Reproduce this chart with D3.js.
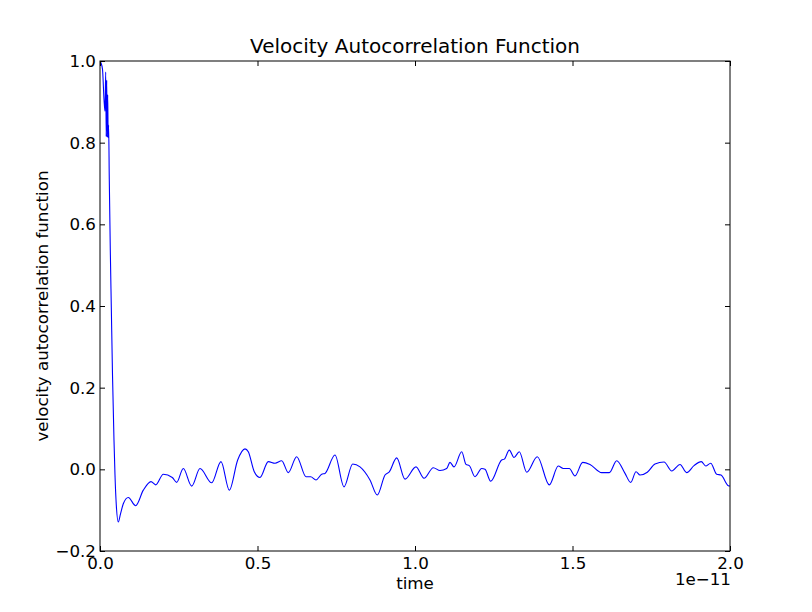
<!DOCTYPE html>
<html>
<head>
<meta charset="utf-8">
<script src="https://cdn.jsdelivr.net/npm/d3@7"></script>
<style>
  html, body { margin: 0; padding: 0; background: #ffffff; }
  svg { display: block; font-family: "DejaVu Sans", sans-serif; }
</style>
</head>
<body>
<svg id="chart" width="812" height="612"></svg>
<script>
// ---- data (time in units of 1e-11) ----
const chartTitle = "Velocity Autocorrelation Function";
const xLabel = "time";
const yLabel = "velocity autocorrelation function";
const xOffsetLabel = "1e\u221211";

const time = [
  0, 0.0032, 0.0079, 0.0127, 0.0159, 0.0181, 0.0197, 0.0213, 0.0229, 0.0244,
  0.0260, 0.0273, 0.0295, 0.0327, 0.0359, 0.0397, 0.0444, 0.0476, 0.0517, 0.0581,
  0.0651, 0.0746, 0.0898, 0.1133, 0.1375, 0.1619, 0.1768, 0.2010, 0.2295, 0.2435,
  0.2644, 0.2911, 0.3175, 0.3546, 0.3841, 0.4105, 0.4371, 0.4603, 0.4708, 0.4898,
  0.5079, 0.5343, 0.5556, 0.5768, 0.5978, 0.6244, 0.6540, 0.6689, 0.6857, 0.7038,
  0.7143, 0.7460, 0.7746, 0.8022, 0.8254, 0.8571, 0.8803, 0.9048, 0.9184, 0.9419,
  0.9683, 1.0032, 1.0286, 1.0581, 1.0794, 1.1006, 1.1111, 1.1238, 1.1483, 1.1619,
  1.1724, 1.1905, 1.2117, 1.2222, 1.2403, 1.2752, 1.2835, 1.2994, 1.3143, 1.3311,
  1.3546, 1.3883, 1.4263, 1.4549, 1.4708, 1.4898, 1.5079, 1.5324, 1.5556, 1.5927,
  1.6168, 1.6403, 1.6667, 1.6848, 1.7016, 1.7143, 1.7375, 1.7619, 1.7905, 1.8152,
  1.8413, 1.8625, 1.8857, 1.9089, 1.9229, 1.9387, 1.9578, 1.9714, 1.9946, 2.0
];
const vacf = [
  1.000, 0.995, 0.980, 0.906, 0.877, 0.973, 0.815, 0.953, 0.813, 0.917,
  0.813, 0.843, 0.709, 0.537, 0.397, 0.231, 0.072, -0.014, -0.087, -0.129,
  -0.109, -0.083, -0.069, -0.089, -0.051, -0.030, -0.038, -0.012, -0.020, -0.032,
  0.002, -0.041, 0.002, -0.033, 0.019, -0.051, 0.023, 0.050, 0.043, -0.006,
  -0.020, 0.019, 0.015, 0.021, -0.008, 0.031, -0.018, -0.018, -0.026, -0.012,
  -0.010, 0.035, -0.043, 0.013, 0.006, -0.026, -0.063, -0.014, -0.006, 0.028,
  -0.024, 0.006, -0.022, 0.004, -0.003, 0.002, 0.017, 0.006, 0.043, 0.012,
  0.009, -0.018, 0.002, 0.000, -0.029, 0.023, 0.025, 0.047, 0.029, 0.043,
  -0.007, 0.031, -0.038, 0.008, 0.002, 0.002, -0.016, 0.017, 0.012, -0.008,
  -0.008, 0.021, -0.010, -0.032, -0.006, -0.014, -0.007, 0.013, 0.018, -0.004,
  0.012, -0.008, 0.009, 0.019, 0.008, 0.015, -0.012, -0.014, -0.040, -0.041
];
const xTicks = [0.0, 0.5, 1.0, 1.5, 2.0];
const yTicks = [-0.2, 0.0, 0.2, 0.4, 0.6, 0.8, 1.0];
const xDomain = [0, 2.0];
const yDomain = [-0.2, 1.0];

// ---- layout ----
const svg = d3.select("#chart");
const mL = 100, mR = 730, mT = 61, mB = 551;
const fs = 16.7;

const x = d3.scaleLinear().domain(xDomain).range([mL, mR]);
const y = d3.scaleLinear().domain(yDomain).range([mB, mT]);

svg.append("rect").attr("x", 0).attr("y", 0).attr("width", 812).attr("height", 612).attr("fill", "#fff");

svg.append("defs").append("clipPath").attr("id", "clip")
  .append("rect").attr("x", mL).attr("y", mT).attr("width", mR - mL).attr("height", mB - mT);

const pts = time.map((t, i) => [t, vacf[i]]);
const line = d3.line().x(d => x(d[0])).y(d => y(d[1])).curve(d3.curveMonotoneX);
svg.append("path")
  .datum(pts)
  .attr("clip-path", "url(#clip)")
  .attr("fill", "none")
  .attr("stroke", "#0000ff")
  .attr("stroke-width", 1.1)
  .attr("stroke-linejoin", "round")
  .attr("d", line);

const fmt = d3.format(".1f");

function styleAxis(g, showText) {
  g.select(".domain").remove();
  g.selectAll(".tick line").attr("stroke", "#000").attr("stroke-width", 1);
  g.selectAll(".tick text")
    .attr("fill", "#000")
    .attr("font-size", fs)
    .attr("font-family", "DejaVu Sans, sans-serif");
  if (!showText) g.selectAll(".tick text").remove();
}

svg.append("g").attr("transform", `translate(0,${mB})`)
  .call(d3.axisBottom(x).tickValues(xTicks).tickFormat(fmt).tickSizeInner(-5).tickSizeOuter(0).tickPadding(6.5))
  .call(g => styleAxis(g, true));
svg.append("g").attr("transform", `translate(0,${mT})`)
  .call(d3.axisTop(x).tickValues(xTicks).tickSizeInner(-5).tickSizeOuter(0))
  .call(g => styleAxis(g, false));
svg.append("g").attr("transform", `translate(${mL},0)`)
  .call(d3.axisLeft(y).tickValues(yTicks).tickFormat(fmt).tickSizeInner(-5).tickSizeOuter(0).tickPadding(4))
  .call(g => styleAxis(g, true));
svg.append("g").attr("transform", `translate(${mR},0)`)
  .call(d3.axisRight(y).tickValues(yTicks).tickSizeInner(-5).tickSizeOuter(0))
  .call(g => styleAxis(g, false));

// frame
svg.append("rect")
  .attr("x", mL).attr("y", mT)
  .attr("width", mR - mL).attr("height", mB - mT)
  .attr("fill", "none").attr("stroke", "#000").attr("stroke-width", 1);

// title
svg.append("text")
  .attr("x", (mL + mR) / 2).attr("y", 53)
  .attr("text-anchor", "middle").attr("font-size", 20).attr("fill", "#000")
  .text(chartTitle);

// x label
svg.append("text")
  .attr("x", (mL + mR) / 2).attr("y", 589)
  .attr("text-anchor", "middle").attr("font-size", fs).attr("fill", "#000")
  .text(xLabel);

// offset text
svg.append("text")
  .attr("x", mR + 1).attr("y", 585)
  .attr("text-anchor", "end").attr("font-size", fs).attr("fill", "#000")
  .text(xOffsetLabel);

// y label
svg.append("text")
  .attr("transform", `translate(48,${(mT + mB) / 2}) rotate(-90)`)
  .attr("text-anchor", "middle").attr("font-size", fs).attr("fill", "#000")
  .text(yLabel);
</script>
</body>
</html>
